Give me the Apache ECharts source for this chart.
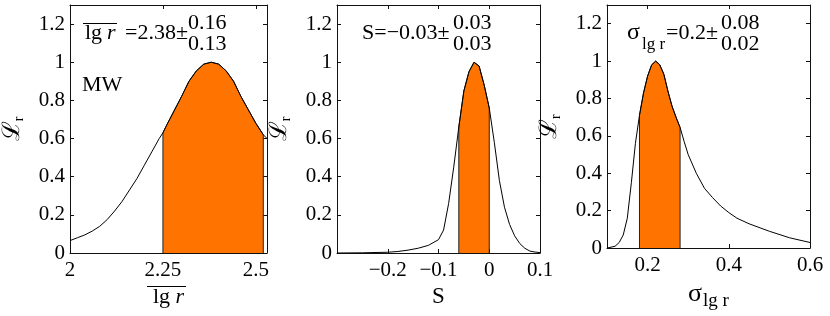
<!DOCTYPE html>
<html><head><meta charset="utf-8">
<script src="https://cdn.jsdelivr.net/npm/echarts@6/dist/echarts.min.js"></script>
<style>html,body{margin:0;padding:0;background:#fff}#c{width:830px;height:316px}</style>
</head><body><div id="c"></div>
<script>
// ---- data ----
const mwX = [2.00,2.02,2.04,2.06,2.08,2.10,2.12,2.14,2.16,2.18,2.20,2.22,2.24,2.25,2.26,2.28,2.30,2.32,2.34,2.36,2.38,2.40,2.42,2.44,2.46,2.48,2.50,2.52,2.53];
const mwY = [0.065,0.08,0.095,0.115,0.14,0.175,0.22,0.27,0.33,0.39,0.46,0.53,0.60,0.63,0.67,0.745,0.82,0.90,0.955,0.99,1.0,0.99,0.955,0.90,0.82,0.75,0.68,0.62,0.60];
const mwBand = [2.25, 2.52];

const sX = [-0.30,-0.25,-0.20,-0.18,-0.16,-0.14,-0.12,-0.10,-0.09,-0.08,-0.07,-0.06,-0.05,-0.04,-0.03,-0.02,-0.01,0.00,0.01,0.02,0.03,0.04,0.05,0.06,0.07,0.08,0.09,0.10];
const sY = [0,0.001,0.004,0.008,0.015,0.025,0.04,0.07,0.12,0.26,0.45,0.66,0.85,0.95,1.0,0.98,0.88,0.76,0.58,0.38,0.24,0.15,0.09,0.05,0.025,0.01,0.005,0.002];
const sBand = [-0.06, 0.0];

const sigX = [0.10,0.12,0.13,0.14,0.15,0.16,0.17,0.18,0.19,0.20,0.21,0.22,0.23,0.24,0.25,0.26,0.27,0.28,0.29,0.30,0.32,0.34,0.36,0.38,0.40,0.42,0.45,0.50,0.55,0.60];
const sigY = [0,0.01,0.03,0.07,0.16,0.35,0.56,0.71,0.83,0.92,0.98,1.0,0.98,0.93,0.84,0.76,0.70,0.645,0.57,0.50,0.40,0.32,0.27,0.225,0.19,0.16,0.13,0.09,0.055,0.03];
const sigBand = [0.18, 0.28];

const yTicks = [0,0.2,0.4,0.6,0.8,1,1.2];
const mwTicks = [2,2.25,2.5];
const sTicks = [-0.2,-0.1,0,0.1];
const sigTicks = [0.2,0.4,0.6];

const xRanges = [[2,2.53],[-0.3,0.1],[0.1,0.6]];
const yRange = [0,1.3];

// ---- build ----
const FF = "'Liberation Serif','DejaVu Serif',serif";
const fmt = v => String(+(+v).toFixed(3)).replace('-', '\u2212');
const grids = [
  {left:65, top:5, width:202, height:248},
  {left:337, top:5, width:203, height:248},
  {left:607, top:5, width:203, height:248}
];
const xTickSets = [mwTicks, sTicks, sigTicks];
const xNames = [
  {name:'{n|lg }{i|r}', rich:{n:{fontSize:22,fontFamily:FF},i:{fontSize:22,fontFamily:FF,fontStyle:'italic'}}},
  {name:'{n|S}', rich:{n:{fontSize:23,fontFamily:FF}}},
  {name:'{n|\u03c3}{s|lg r}', rich:{n:{fontSize:26,fontFamily:FF},s:{fontSize:19,fontFamily:FF,padding:[15,0,0,1]}}}
];
const xAxis = [], yAxis = [];
grids.forEach((g,i)=>{
  const base = {type:'value', gridIndex:i, min:xRanges[i][0], max:xRanges[i][1],
    splitLine:{show:false}, axisLine:{show:true,onZero:false,lineStyle:{color:'#111',width:1}},
    axisTick:{show:true,inside:true,length:4,customValues:xTickSets[i],lineStyle:{color:'#111'}}};
  xAxis.push(Object.assign({}, base, {position:'bottom',
    axisLabel:{show:true,customValues:xTickSets[i],formatter:fmt,color:'#000',fontSize:21,fontFamily:FF,margin:7},
    name:xNames[i].name, nameLocation:'middle', nameGap:28,
    nameTextStyle:{color:'#000',fontFamily:FF,rich:xNames[i].rich}}));
  xAxis.push(Object.assign({}, base, {position:'top', axisLabel:{show:false}}));
  const ybase = {type:'value', gridIndex:i, min:yRange[0], max:yRange[1],
    splitLine:{show:false}, axisLine:{show:true,onZero:false,lineStyle:{color:'#111',width:1}},
    axisTick:{show:true,inside:true,length:4,customValues:yTicks,lineStyle:{color:'#111'}}};
  yAxis.push(Object.assign({}, ybase, {position:'left',
    axisLabel:{show:true,customValues:yTicks,formatter:fmt,color:'#000',fontSize:21,fontFamily:FF,margin:5},
    name:'{L|\u2112}{r|r}', nameLocation:'middle', nameRotate:90, nameGap:44,
    nameTextStyle:{color:'#000',rich:{L:{fontSize:24,fontFamily:FF},r:{fontSize:14,fontFamily:FF,padding:[12,0,0,0]}}}}));
  yAxis.push(Object.assign({}, ybase, {position:'right', axisLabel:{show:false}}));
});

function pairs(xs, ys){ return xs.map((x,k)=>[x, ys[k]]); }
function shade(xs, ys, band){
  const pts = [];
  xs.forEach((x,k)=>{ if (x >= band[0]-1e-9 && x <= band[1]+1e-9) pts.push([x, ys[k]]); });
  return [[band[0],0]].concat(pts, [[band[1],0]]);
}
const curves = [[mwX,mwY,mwBand],[sX,sY,sBand],[sigX,sigY,sigBand]];
const series = [];
curves.forEach((c,i)=>{
  series.push({type:'line', xAxisIndex:2*i, yAxisIndex:2*i, data:shade(c[0],c[1],c[2]),
    showSymbol:false, symbol:'none', z:1, silent:true, animation:false,
    lineStyle:{color:'#222',width:1}, areaStyle:{color:'#ff7400',opacity:1}});
  series.push({type:'line', xAxisIndex:2*i, yAxisIndex:2*i, data:pairs(c[0],c[1]),
    showSymbol:false, symbol:'none', z:2, silent:true, animation:false,
    lineStyle:{color:'#000',width:1}});
});

const T = (text,x,y,size,extra)=>Object.assign({type:'text', x, y, z:100,
  style:Object.assign({text, fill:'#000', fontSize:size||22, fontFamily:FF, verticalAlign:'middle', align:'left'}, extra||{})});
const L = (x1,y1,x2)=>({type:'line', z:100, shape:{x1,y1,x2,y2:y1}, style:{stroke:'#000',lineWidth:1}});
const graphic = [
  // panel 1 annotation
  L(83,23.5,117), T('lg',85,33), T('r',107,33,22,{fontStyle:'italic'}), T('=2.38\u00b1',125,33),
  T('0.16',188,23), T('0.13',188,44), T('MW',82,85),
  // panel 1 x-axis name overline
  L(147,286.5,186),
  // panel 2
  T('S=\u22120.03\u00b1',362,33), T('0.03',453,23), T('0.03',453,44),
  // panel 3
  T('\u03c3',627,33,24), T('lg r',642,45,17), T('=0.2\u00b1',666,33), T('0.08',721,23), T('0.02',721,44)
];

const chart = echarts.init(document.getElementById('c'), null, {renderer:'canvas'});
chart.setOption({animation:false, backgroundColor:'#fff', grid:grids, xAxis, yAxis, series, graphic});
</script>
</body></html>
